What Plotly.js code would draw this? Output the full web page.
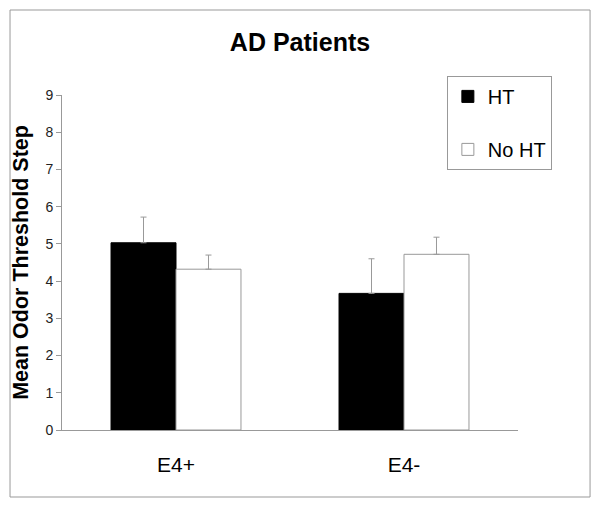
<!DOCTYPE html>
<html><head><meta charset="utf-8">
<script src="https://cdn.plot.ly/plotly-3.0.1.min.js"></script>
<style>body{margin:0;padding:0;background:#fff}#chart{width:600px;height:508px}</style>
</head><body><div id="chart"></div>
<script>
const categories = ["E4+", "E4-"];
const htValues = [5.03, 3.67];
const htErrors = [0.69, 0.93];
const noHtValues = [4.32, 4.72];
const noHtErrors = [0.38, 0.46];
const yTicks = [0,1,2,3,4,5,6,7,8,9];

const errStyle = {color:'#999999', thickness:1, width:3};
const traces = [
  {type:'bar', name:'HT', x:categories, y:htValues, legendgroup:'a',
   marker:{color:'#000000', line:{color:'#000000', width:1}},
   error_y:Object.assign({type:'data', symmetric:false, array:htErrors, arrayminus:[0,0]}, errStyle)},
  {type:'bar', name:'No HT', x:categories, y:noHtValues, legendgroup:'b',
   marker:{color:'#ffffff', line:{color:'#999999', width:1}},
   error_y:Object.assign({type:'data', symmetric:false, array:noHtErrors, arrayminus:[0,0]}, errStyle)}
];
const layout = {
  width:600, height:508,
  margin:{l:62, r:82, t:95, b:78},
  paper_bgcolor:'#ffffff', plot_bgcolor:'#ffffff',
  font:{family:'Liberation Sans, Arial, sans-serif', color:'#000'},
  title:{text:'<b>AD Patients</b>', font:{size:25, color:'#000'}, x:0.5, xanchor:'center', y:0.917, yanchor:'middle'},
  barmode:'group', bargap:0.43, bargroupgap:0,
  xaxis:{showline:true, linecolor:'#999999', linewidth:1, ticks:'', tickfont:{size:21, color:'#000'}, ticklabelstandoff:16, showgrid:false, zeroline:false},
  yaxis:{range:[0,9], tickvals:yTicks, showline:true, linecolor:'#999999', linewidth:1, ticks:'outside', ticklen:5, tickcolor:'#999999',
    tickfont:{size:14, color:'#222'}, showgrid:false, zeroline:false,
    title:{text:'<b>Mean Odor Threshold Step</b>', font:{size:21.5, color:'#000'}, standoff:10}},
  showlegend:true,
  legend:{x:0.844, y:1.057, xanchor:'left', yanchor:'top', bordercolor:'#999999', borderwidth:1, bgcolor:'#fff',
    font:{size:20, color:'#000'}, tracegroupgap:24, itemwidth:30},
  shapes:[{type:'rect', xref:'paper', yref:'paper', x0:-0.114, x1:1.158, y0:-0.2, y1:1.2537, line:{color:'#999999', width:1}, layer:'below'}]
};
Plotly.newPlot('chart', traces, layout, {displayModeBar:false, staticPlot:true});
</script></body></html>
